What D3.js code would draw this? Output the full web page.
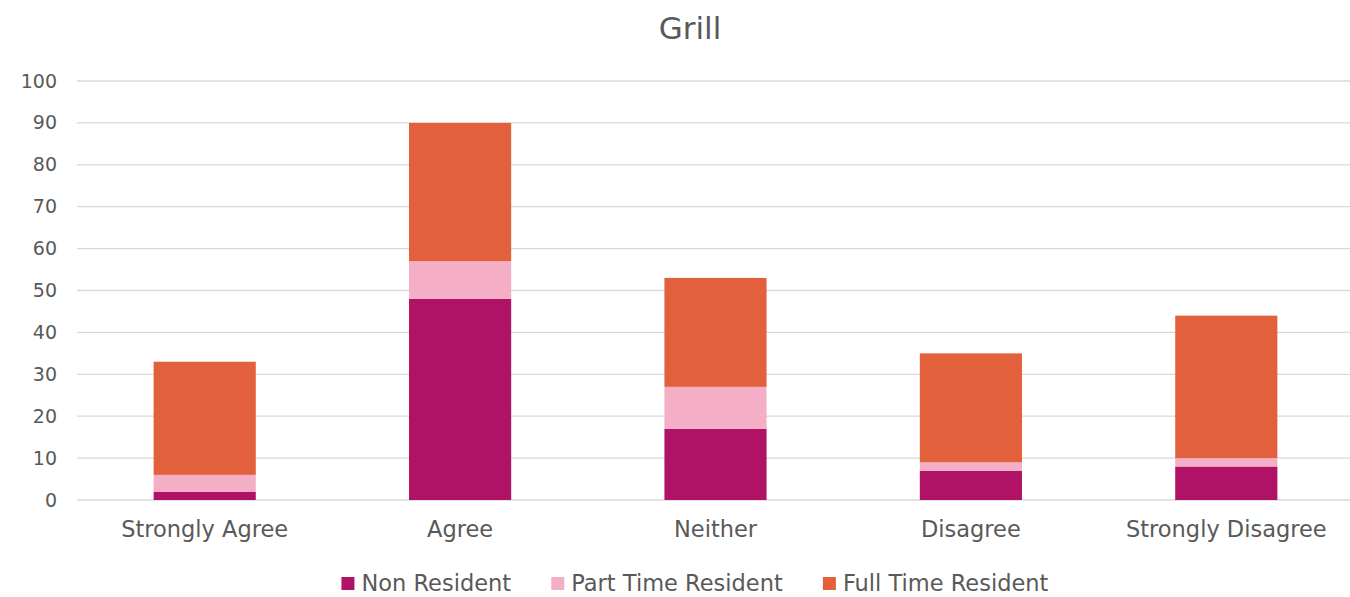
<!DOCTYPE html>
<html>
<head>
<meta charset="utf-8">
<script src="https://cdn.jsdelivr.net/npm/d3@7"></script>
<style>
  html, body { margin: 0; padding: 0; background: #fff; }
  svg { display: block; }
  text { font-family: "DejaVu Sans", sans-serif; fill: #595959; }
</style>
</head>
<body>
<svg id="chart" width="1350" height="597"></svg>
<script>
// Survey responses for "Grill", stacked by residency type
const categories = ["Strongly Agree", "Agree", "Neither", "Disagree", "Strongly Disagree"];
const seriesNames = ["Non Resident", "Part Time Resident", "Full Time Resident"];
const nonResident = [2, 48, 17, 7, 8];
const partTimeResident = [4, 9, 10, 2, 2];
const fullTimeResident = [27, 33, 26, 26, 34];
const yTicks = [0, 10, 20, 30, 40, 50, 60, 70, 80, 90, 100];
const colors = ["#B01265", "#F4AFC6", "#E3603C"];

const rows = categories.map((c, i) => ({
  category: c,
  "Non Resident": nonResident[i],
  "Part Time Resident": partTimeResident[i],
  "Full Time Resident": fullTimeResident[i]
}));

const svg = d3.select("#chart");
const plotLeft = 77, plotRight = 1354, plotTop = 81, plotBottom = 500;

const x = d3.scaleBand().domain(categories).range([plotLeft, plotRight]).paddingInner(0.6).paddingOuter(0.3);
const y = d3.scaleLinear().domain([0, 100]).range([plotBottom, plotTop]);
const color = d3.scaleOrdinal().domain(seriesNames).range(colors);

// Title
svg.append("text")
  .attr("x", 690).attr("y", 39)
  .attr("text-anchor", "middle")
  .style("font-size", "31px")
  .text("Grill");

// Horizontal gridlines
svg.append("g")
  .selectAll("line")
  .data(yTicks)
  .join("line")
  .attr("x1", plotLeft).attr("x2", plotRight)
  .attr("y1", d => y(d)).attr("y2", d => y(d))
  .attr("stroke", "#d9d9d9").attr("stroke-width", 1.3);

// Y axis labels
const yAxis = svg.append("g")
  .attr("transform", `translate(${plotLeft},0)`)
  .call(d3.axisLeft(y).tickValues(yTicks).tickSize(0).tickPadding(20));
yAxis.select(".domain").remove();
yAxis.selectAll("text")
  .style("font-size", "19px")
  .style("font-family", "DejaVu Sans, sans-serif")
  .attr("fill", "#595959");

// Stacked bars
const stacked = d3.stack().keys(seriesNames)(rows);
svg.append("g")
  .selectAll("g")
  .data(stacked)
  .join("g")
  .attr("fill", d => color(d.key))
  .selectAll("rect")
  .data(d => d)
  .join("rect")
  .attr("x", d => x(d.data.category))
  .attr("width", x.bandwidth())
  .attr("y", d => y(d[1]))
  .attr("height", d => y(d[0]) - y(d[1]));

// X axis category labels
const xAxis = svg.append("g")
  .attr("transform", `translate(0,${plotBottom})`)
  .call(d3.axisBottom(x).tickSize(0).tickPadding(21));
xAxis.select(".domain").remove();
xAxis.selectAll("text")
  .style("font-size", "22.5px")
  .style("font-family", "DejaVu Sans, sans-serif")
  .attr("fill", "#595959");

// Legend
const legend = svg.append("g");
const items = legend.selectAll("g")
  .data(seriesNames)
  .join("g");
items.append("rect")
  .attr("width", 13).attr("height", 13)
  .attr("y", -14)
  .attr("fill", d => color(d));
items.append("text")
  .attr("x", 20)
  .attr("y", 0)
  .style("font-size", "22.5px")
  .text(d => d);

const gap = 40;
const widths = items.nodes().map(n => n.getBBox().width);
const total = d3.sum(widths) + gap * (widths.length - 1);
let start = 695 - total / 2;
items.attr("transform", (d, i) => {
  const t = `translate(${start},591)`;
  start += widths[i] + gap;
  return t;
});
</script>
</body>
</html>
